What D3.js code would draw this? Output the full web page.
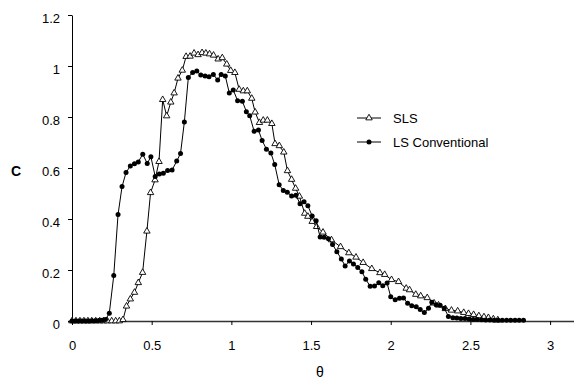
<!DOCTYPE html>
<html>
<head>
<meta charset="utf-8">
<script src="https://cdn.jsdelivr.net/npm/d3@7"></script>
<style>
  body { margin: 0; background: #fff; }
  svg { display: block; font-family: "Liberation Sans", Arial, sans-serif; }
</style>
</head>
<body>
<svg id="graph" width="574" height="379"></svg>
<script>
// LS Conventional (filled circles)
const lsTheta = [0, 0.021, 0.042, 0.063, 0.084, 0.105, 0.126, 0.147, 0.168, 0.189, 0.21,
  0.234, 0.262, 0.289, 0.314, 0.339, 0.366, 0.392, 0.416, 0.444, 0.472, 0.495,
  0.522, 0.548, 0.573, 0.6, 0.628, 0.657, 0.681, 0.705, 0.73, 0.757, 0.783,
  0.808, 0.835, 0.86, 0.887, 0.914, 0.936, 0.962, 0.987, 1.012, 1.039, 1.069,
  1.094, 1.115, 1.143, 1.17, 1.193, 1.22, 1.248, 1.272, 1.3, 1.326, 1.351,
  1.378, 1.405, 1.431, 1.456, 1.48, 1.507, 1.532, 1.557, 1.582, 1.609, 1.635,
  1.662, 1.69, 1.714, 1.741, 1.766, 1.793, 1.819, 1.843, 1.871, 1.898, 1.925,
  1.95, 1.977, 2.0, 2.028, 2.055, 2.08, 2.106, 2.132, 2.16, 2.185, 2.211,
  2.237, 2.258, 2.285, 2.31, 2.336, 2.362, 2.39, 2.415, 2.44, 2.466, 2.492,
  2.518, 2.543, 2.57, 2.596, 2.622, 2.648, 2.674, 2.7, 2.727, 2.753, 2.78,
  2.806, 2.833];
const lsC = [0, 0, 0, 0, 0, 0, 0.001, 0.001, 0.002, 0.003, 0.006,
  0.030, 0.178, 0.418, 0.527, 0.582, 0.608, 0.617, 0.624, 0.654, 0.618, 0.644,
  0.567, 0.576, 0.579, 0.590, 0.592, 0.627, 0.657, 0.780, 0.955, 0.975, 0.980,
  0.965, 0.961, 0.958, 0.967, 0.945, 0.967, 0.961, 0.894, 0.906, 0.864, 0.862,
  0.821, 0.805, 0.744, 0.749, 0.708, 0.674, 0.659, 0.614, 0.534, 0.512, 0.505,
  0.490, 0.493, 0.460, 0.468, 0.452, 0.412, 0.393, 0.329, 0.328, 0.323, 0.300,
  0.272, 0.243, 0.216, 0.235, 0.224, 0.210, 0.193, 0.164, 0.136, 0.137, 0.150,
  0.138, 0.149, 0.095, 0.083, 0.089, 0.090, 0.070, 0.060, 0.056, 0.045, 0.033,
  0.050, 0.074, 0.064, 0.062, 0.050, 0.018, 0.013, 0.012, 0.010, 0.010, 0.008,
  0.006, 0.006, 0.005, 0.004, 0.004, 0.003, 0.003, 0.003, 0.003, 0.003, 0.003,
  0.003, 0.003];

// SLS (open triangles)
const slsTheta = [0, 0.025, 0.05, 0.075, 0.1, 0.124, 0.149, 0.174, 0.198, 0.222,
  0.249, 0.274, 0.297, 0.32, 0.342, 0.366, 0.392, 0.416, 0.443, 0.47, 0.493,
  0.521, 0.546, 0.569, 0.594, 0.62, 0.641, 0.665, 0.692, 0.716, 0.741, 0.766,
  0.791, 0.816, 0.84, 0.863, 0.888, 0.917, 0.943, 0.971, 0.996, 1.022, 1.049,
  1.075, 1.1, 1.128, 1.149, 1.176, 1.2, 1.226, 1.254, 1.274, 1.301, 1.329,
  1.352, 1.378, 1.403, 1.427, 1.46, 1.48, 1.507, 1.535, 1.575, 1.628, 1.685,
  1.737, 1.782, 1.827, 1.881, 1.932, 1.962, 2.005, 2.049, 2.097, 2.118, 2.157,
  2.188, 2.229, 2.272, 2.3, 2.343, 2.381, 2.42, 2.458, 2.488, 2.52, 2.553,
  2.585, 2.613, 2.644, 2.672];
const slsC = [0, 0, 0, 0, 0, 0, 0, 0, 0, 0,
  0, 0, 0, 0.005, 0.058, 0.086, 0.112, 0.150, 0.190, 0.352, 0.503,
  0.553, 0.625, 0.868, 0.804, 0.858, 0.894, 0.952, 0.983, 1.037, 1.038, 1.050,
  1.044, 1.052, 1.050, 1.047, 1.042, 1.027, 1.032, 1.007, 0.982, 0.974, 0.908,
  0.902, 0.902, 0.873, 0.819, 0.778, 0.787, 0.787, 0.774, 0.695, 0.687, 0.662,
  0.589, 0.555, 0.520, 0.489, 0.422, 0.410, 0.390, 0.370, 0.348, 0.318, 0.291,
  0.267, 0.250, 0.229, 0.205, 0.189, 0.182, 0.162, 0.154, 0.128, 0.122, 0.104,
  0.098, 0.091, 0.070, 0.062, 0.048, 0.042, 0.039, 0.033, 0.029, 0.025, 0.020,
  0.016, 0.013, 0.008, 0.004];

const xTicks = [0, 0.5, 1, 1.5, 2, 2.5, 3];
const yTicks = [0, 0.2, 0.4, 0.6, 0.8, 1, 1.2];
const seriesNames = ["SLS", "LS Conventional"];

let lsData = lsTheta.map((t, i) => ({ theta: t, c: lsC[i] }));
let slsData = slsTheta.map((t, i) => ({ theta: t, c: slsC[i] }));

let plot = { left: 72, right: 574, top: 15, bottom: 321 };
let svg = d3.select("#graph");

let x = d3.scaleLinear().domain([0, 3.15]).range([plot.left, plot.right]);
let y = d3.scaleLinear().domain([0, 1.2]).range([plot.bottom, plot.top]);

// axes
let xAxis = svg.append("g")
    .attr("transform", `translate(0, ${plot.bottom})`)
    .call(d3.axisBottom(x).tickValues(xTicks).tickSize(4).tickPadding(16).tickSizeOuter(0)
        .tickFormat(d3.format("")));
xAxis.select(".domain").attr("stroke", "#333").attr("stroke-width", 1.4)
    .attr("d", `M${plot.left - 4},0.5H${plot.right}`);

let yAxis = svg.append("g")
    .attr("transform", `translate(${plot.left}, 0)`)
    .call(d3.axisLeft(y).tickValues(yTicks).tickSize(4).tickPadding(8).tickSizeOuter(0)
        .tickFormat(d3.format("")));

svg.selectAll(".tick text").attr("font-size", 13).attr("fill", "#000")
    .attr("font-family", "'Liberation Sans', Arial, sans-serif");
yAxis.selectAll(".tick text").attr("dy", "0.55em");
svg.selectAll(".tick line").attr("stroke", "#000");
yAxis.select(".domain").attr("stroke", "#000");

svg.append("text")
    .attr("x", 320).attr("y", 377)
    .attr("text-anchor", "middle")
    .attr("font-size", 14)
    .text("θ");

svg.append("text")
    .attr("x", 16).attr("y", 176)
    .attr("text-anchor", "middle")
    .attr("font-size", 14)
    .attr("font-weight", "bold")
    .text("C");

let line = d3.line().x(d => x(d.theta)).y(d => y(d.c));
let triangle = d3.symbol().type(d3.symbolTriangle).size(18);

// SLS
svg.append("path").datum(slsData)
    .attr("d", line).attr("fill", "none").attr("stroke", "#000").attr("stroke-width", 1);
svg.append("g").selectAll("path").data(slsData).enter().append("path")
    .attr("d", triangle)
    .attr("transform", d => `translate(${x(d.theta)}, ${y(d.c)})`)
    .attr("fill", "#fff").attr("stroke", "#000").attr("stroke-width", 0.9);

// LS Conventional
svg.append("path").datum(lsData)
    .attr("d", line).attr("fill", "none").attr("stroke", "#000").attr("stroke-width", 1);
svg.append("g").selectAll("circle").data(lsData).enter().append("circle")
    .attr("cx", d => x(d.theta)).attr("cy", d => y(d.c))
    .attr("r", 2.5).attr("fill", "#000");

// legend
let legend = svg.append("g").attr("transform", "translate(357, 118)");
seriesNames.forEach((name, i) => {
    let row = legend.append("g").attr("transform", `translate(0, ${i * 24})`);
    row.append("line").attr("x1", 0).attr("x2", 24).attr("y1", 0).attr("y2", 0)
        .attr("stroke", "#000");
    if (i === 0) {
        row.append("path").attr("d", triangle).attr("transform", "translate(12, 0)")
            .attr("fill", "#fff").attr("stroke", "#000").attr("stroke-width", 0.9);
    } else {
        row.append("circle").attr("cx", 12).attr("cy", 0).attr("r", 2.5).attr("fill", "#000");
    }
    row.append("text").attr("x", 36).attr("y", 4.5).attr("font-size", 13).text(name);
});
</script>
</body>
</html>
